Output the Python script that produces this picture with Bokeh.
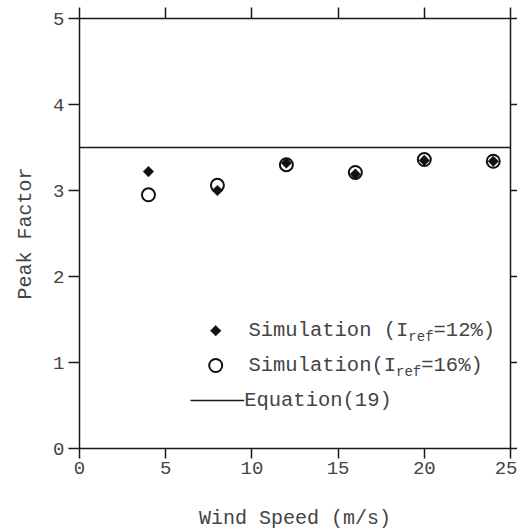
import math
from bokeh.plotting import figure
from bokeh.models import LinearAxis, Range1d, FixedTicker, Label, Span
from bokeh.embed import file_html
from bokeh.resources import INLINE

# Data
wind_speed = [4, 8, 12, 16, 20, 24]
sim_iref12 = [3.22, 3.00, 3.32, 3.19, 3.35, 3.34]
sim_iref16 = [2.95, 3.06, 3.30, 3.21, 3.36, 3.34]
equation_value = 3.5
x_ticks = [0, 5, 10, 15, 20, 25]
y_ticks = [0, 1, 2, 3, 4, 5]

FONT = "Liberation Mono"
TXT = "#444444"
AX = "#1a1a1a"

p = figure(frame_width=431, frame_height=430, output_backend="svg",
           toolbar_location=None, x_range=Range1d(0, 25), y_range=Range1d(0, 5),
           min_border_left=79, min_border_right=7, min_border_top=18, min_border_bottom=80,
           outline_line_color=None)
p.xgrid.visible = False
p.ygrid.visible = False


def style(ax, ticks, tick_out, labels=True):
    ax.ticker = FixedTicker(ticks=ticks, minor_ticks=[])
    ax.axis_line_color = AX
    ax.axis_line_width = 1.5
    ax.major_tick_line_color = AX
    ax.major_tick_line_width = 1.5
    ax.major_tick_out = tick_out
    ax.major_tick_in = 0
    ax.minor_tick_line_color = None
    ax.major_label_text_font = FONT
    ax.major_label_text_color = TXT
    ax.major_label_text_font_size = "19px"
    if not labels:
        ax.major_label_overrides = {t: "" for t in ticks}
        ax.major_label_text_font_size = "1px"
        ax.major_label_standoff = 0
    ax.axis_label_text_font = FONT
    ax.axis_label_text_font_style = "normal"
    ax.axis_label_text_color = TXT
    ax.axis_label_text_font_size = "20px"


style(p.xaxis[0], x_ticks, 10)
style(p.yaxis[0], y_ticks, 11)
p.xaxis[0].axis_label = "Wind Speed (m/s)"
p.yaxis[0].axis_label = "Peak Factor"
p.xaxis[0].major_label_standoff = 3
p.xaxis[0].axis_label_standoff = 30
p.yaxis[0].major_label_standoff = 4
p.yaxis[0].axis_label_standoff = 13

top = LinearAxis()
style(top, x_ticks, 11, labels=False)
p.add_layout(top, "above")
right = LinearAxis()
style(right, y_ticks, 7, labels=False)
p.add_layout(right, "right")

# Equation line
p.add_layout(Span(location=equation_value, dimension="width", line_color=AX, line_width=1.5))

# Data points
p.scatter(wind_speed, sim_iref16, marker="circle", size=13, fill_color="white",
          line_color="#111111", line_width=2)
p.scatter(wind_speed, sim_iref12, marker="square", angle=math.pi / 4, size=7.5,
          fill_color="#111111", line_color="#111111", line_width=0.5)

# Legend (manual, for subscripts)
leg_x_marker = 7.9
leg_text_x = 9.8
leg_y = [1.37, 0.965, 0.558]
p.scatter([leg_x_marker], [leg_y[0]], marker="square", angle=math.pi / 4, size=7.5,
          fill_color="#111111", line_color="#111111", line_width=0.5)
p.scatter([leg_x_marker], [leg_y[1]], marker="circle", size=13, fill_color="white",
          line_color="#111111", line_width=2)
p.line([6.44, 9.55], [leg_y[2], leg_y[2]], line_color=AX, line_width=1.5)

fs = 20.5
adv = 0.6 * fs
sub_fs = 14
sub_adv = 0.6 * sub_fs


def add_text(txt, x, y, off, size, yoff=0):
    p.add_layout(Label(x=x, y=y, x_offset=off, y_offset=yoff, text=txt,
                       text_font=FONT, text_font_size=f"{size}px", text_color=TXT,
                       text_baseline="middle", text_align="left"))


rows = [("Simulation (I", "ref", "=12%)"), ("Simulation(I", "ref", "=16%)")]
for (a, b, c), yy in zip(rows, leg_y[:2]):
    add_text(a, leg_text_x, yy, 0, fs)
    add_text(b, leg_text_x, yy, len(a) * adv, sub_fs, yoff=-6)
    add_text(c, leg_text_x, yy, len(a) * adv + len(b) * sub_adv, fs)
add_text("Equation(19)", leg_text_x - 0.25, leg_y[2], 0, fs)

open("out.html", "w").write(file_html(p, INLINE))
